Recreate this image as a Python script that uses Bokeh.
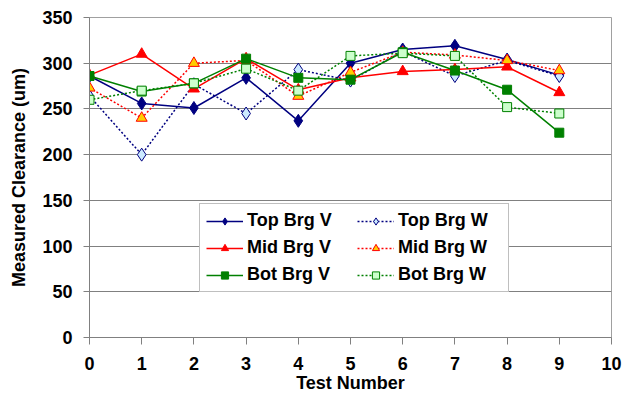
from bokeh.plotting import figure
from bokeh.models import Legend, LegendItem, FixedTicker, Range1d
from bokeh.embed import file_html
from bokeh.resources import INLINE

# Clearance readings per test, vertical (V) and horizontal (W) probes
test_number = [0, 1, 2, 3, 4, 5, 6, 7, 8, 9]
top_brg_v = [286, 256, 251, 284, 237, 300, 315, 319, 304, 287]
top_brg_w = [264, 200, 277, 245, 293, 281, 313, 286, 303, 286]
mid_brg_v = [287, 310, 272, 305, 271, 284, 291, 293, 296, 268]
mid_brg_w = [273, 240, 300, 303, 264, 290, 312, 309, 303, 292]
bot_brg_v = [286, 269, 278, 305, 284, 282, 312, 292, 271, 224]
bot_brg_w = [260, 270, 278, 294, 270, 308, 311, 308, 252, 245]

x_ticks = list(range(0, 11))
y_ticks = list(range(0, 351, 50))

FONT = "Liberation Sans"

p = figure(width=624, height=398, output_backend="svg", toolbar_location=None,
           x_range=Range1d(0, 10), y_range=Range1d(0, 350),
           min_border_left=89, min_border_right=13, min_border_top=17,
           min_border_bottom=61)
p.background_fill_color = "white"
p.border_fill_color = "white"
p.outline_line_color = "#a0a0a0"
p.outline_line_width = 1

p.xgrid.visible = False
p.ygrid.grid_line_color = "#808080"
p.ygrid.grid_line_width = 1
p.ygrid.ticker = FixedTicker(ticks=y_ticks)

for ax in (p.xaxis[0], p.yaxis[0]):
    ax.axis_line_color = "#808080"
    ax.major_tick_line_color = "#808080"
    ax.minor_tick_line_color = None
    ax.major_tick_in = 0
    ax.major_label_text_font = FONT
    ax.major_label_text_font_style = "bold"
    ax.major_label_text_font_size = "18px"
    ax.major_label_text_color = "black"
    ax.axis_label_text_font = FONT
    ax.axis_label_text_font_style = "bold"
    ax.axis_label_text_font_size = "18px"
    ax.axis_label_text_color = "black"

p.xaxis.ticker = FixedTicker(ticks=x_ticks)
p.xaxis.major_tick_out = 7
p.xaxis.major_label_standoff = 12
p.xaxis.axis_label = "Test Number"
p.xaxis.axis_label_standoff = 0

p.yaxis.ticker = FixedTicker(ticks=y_ticks)
p.yaxis.major_tick_out = 6
p.yaxis.major_label_standoff = 11
p.yaxis.axis_label = "Measured Clearance (um)"
p.yaxis.axis_label_standoff = 10

series = [
    ("Top Brg V", top_brg_v, "#000080", "solid", "diamond", "#000080", 13),
    ("Top Brg W", top_brg_w, "#000080", "2 2", "diamond", "#cceaff", 13),
    ("Mid Brg V", mid_brg_v, "#ff0000", "solid", "triangle", "#ff0000", 11),
    ("Mid Brg W", mid_brg_w, "#ff0000", "2 2", "triangle", "#ffcc00", 11),
    ("Bot Brg V", bot_brg_v, "#008000", "solid", "square", "#008000", 9),
    ("Bot Brg W", bot_brg_w, "#008000", "2 2", "square", "#ccffcc", 9),
]

items = {}
for name, ys, color, dash, marker, fill, size in series:
    ln = p.line(test_number, ys, line_color=color, line_width=1.5, line_dash=dash)
    sc = p.scatter(test_number, ys, marker=marker, size=size,
                   fill_color=fill, line_color=color, line_width=1)
    items[name] = LegendItem(label=name, renderers=[ln, sc])

legend = Legend(
    items=[items["Top Brg V"], items["Mid Brg V"], items["Bot Brg V"],
           items["Top Brg W"], items["Mid Brg W"], items["Bot Brg W"]],
    location=(110, 45), nrows=3,
    border_line_color="#808080", border_line_width=1,
    background_fill_color="white", background_fill_alpha=1.0,
    label_text_font=FONT, label_text_font_style="bold",
    label_text_font_size="18px", label_text_color="black",
    glyph_width=37, glyph_height=18, label_standoff=4, label_width=104,
    label_height=18, spacing=6, padding=6, margin=0,
)
p.add_layout(legend, "center")

open("out.html", "w").write(file_html(p, INLINE))
